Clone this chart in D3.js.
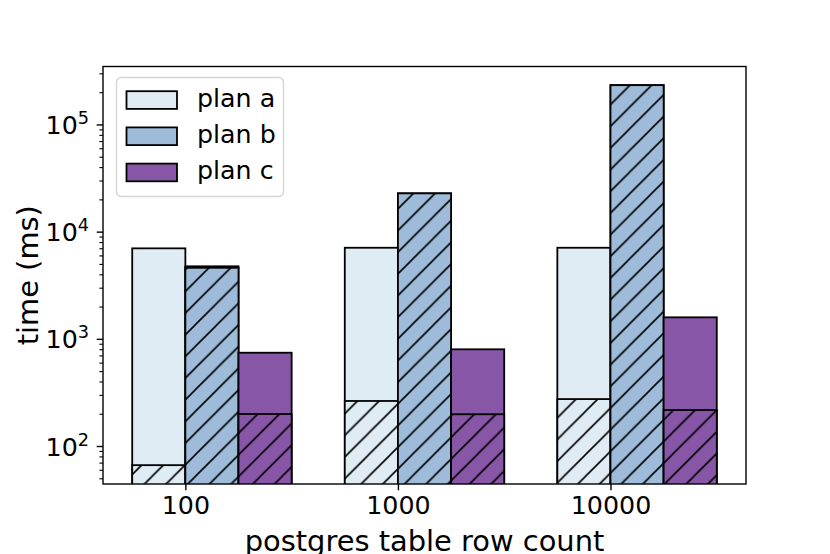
<!DOCTYPE html>
<html>
<head>
<meta charset="utf-8">
<script src="https://cdn.jsdelivr.net/npm/d3@7"></script>
<style>
  html, body { margin: 0; padding: 0; background: #fff; }
  svg { display: block; font-family: "DejaVu Sans", sans-serif; }
</style>
</head>
<body>
<svg id="chart" width="830" height="554"></svg>
<script>
// ---- data ----
const categories = ["100", "1000", "10000"];
const plans = ["plan a", "plan b", "plan c"];
const planColors = ["#e0ecf4", "#9ebcda", "#8856a7"];
const planATotal = [7060, 7150, 7150];
const planAHatched = [67, 266, 277];
const planBTotal = [4800, 23000, 235000];
const planBHatched = [4650, 23000, 235000];
const planCTotal = [750, 807, 1604];
const planCHatched = [201, 200, 219];
const yMajorTicks = [100, 1000, 10000, 100000];
const yTickExponents = ["2", "3", "4", "5"];
const xLabel = "postgres table row count";
const yLabel = "time (ms)";

const totals = [planATotal, planBTotal, planCTotal];
const hatched = [planAHatched, planBHatched, planCHatched];

// ---- layout ----
const svg = d3.select("#chart");
const L = 103, R = 746, T = 66.5, B = 484;
const barW = 0.25;

const x = d3.scaleLinear().domain([-0.3875, 2.6375]).range([L, R]);
const y = d3.scaleLog().domain([44.7, 351000]).range([B, T]);

// hatch pattern
const defs = svg.append("defs");
const hs = 21.67;
planColors.forEach((c, i) => {
  const p = defs.append("pattern")
    .attr("id", "hatch" + i)
    .attr("patternUnits", "userSpaceOnUse")
    .attr("width", hs).attr("height", hs);
  p.append("rect").attr("width", hs).attr("height", hs).attr("fill", c);
  p.append("path")
    .attr("d", `M0,${hs} L${hs},0 M${-hs/2},${hs/2} L${hs/2},${-hs/2} M${hs/2},${hs*1.5} L${hs*1.5},${hs/2}`)
    .attr("stroke", "#000").attr("stroke-width", 1.6);
});
defs.append("clipPath").attr("id", "plotclip")
  .append("rect").attr("x", L).attr("y", T).attr("width", R - L).attr("height", B - T);

const plot = svg.append("g").attr("clip-path", "url(#plotclip)");

plans.forEach((pl, pi) => {
  const g = plot.append("g");
  categories.forEach((c, ci) => {
    const x0 = x(ci + (pi - 1) * barW);
    const w = x(ci + pi * barW) - x0;
    // total (plain)
    g.append("rect")
      .attr("x", x0).attr("width", w)
      .attr("y", y(totals[pi][ci]))
      .attr("height", B + 20 - y(totals[pi][ci]))
      .attr("fill", planColors[pi])
      .attr("stroke", "#000").attr("stroke-width", 1.8);
    // hatched part
    g.append("rect")
      .attr("x", x0).attr("width", w)
      .attr("y", y(hatched[pi][ci]))
      .attr("height", B + 20 - y(hatched[pi][ci]))
      .attr("fill", `url(#hatch${pi})`)
      .attr("stroke", "#000").attr("stroke-width", 1.8);
  });
});

// frame
svg.append("rect").attr("x", L).attr("y", T).attr("width", R - L).attr("height", B - T)
  .attr("fill", "none").attr("stroke", "#000").attr("stroke-width", 1.4);

// x axis
const xAxis = d3.axisBottom(x).tickValues(categories.map((d, i) => i))
  .tickFormat((d, i) => categories[i]).tickSize(6.3).tickPadding(6);
const gx = svg.append("g").attr("transform", `translate(0,${B})`).call(xAxis);
gx.select(".domain").remove();
gx.selectAll(".tick line").attr("stroke-width", 1.4);
gx.selectAll(".tick text").attr("font-size", 25.3).attr("font-family", "DejaVu Sans").attr("fill", "#000");

// y axis minor ticks
const minor = [];
for (let e = 1; e <= 5; e++) for (let m = 2; m <= 9; m++) {
  const v = m * Math.pow(10, e);
  if (v >= 44.7 && v <= 351000) minor.push(v);
}
const gy = svg.append("g");
gy.selectAll("line.minor").data(minor).join("line")
  .attr("x1", L - 3.6).attr("x2", L).attr("y1", d => y(d)).attr("y2", d => y(d))
  .attr("stroke", "#000").attr("stroke-width", 1.1);
gy.selectAll("line.major").data(yMajorTicks).join("line")
  .attr("x1", L - 6.3).attr("x2", L).attr("y1", d => y(d)).attr("y2", d => y(d))
  .attr("stroke", "#000").attr("stroke-width", 1.4);
const yt = gy.selectAll("text").data(yMajorTicks).join("text")
  .attr("x", L - 14).attr("y", d => y(d) + 9)
  .attr("text-anchor", "end").attr("font-size", 25.3).attr("fill", "#000");
yt.append("tspan").text("10");
yt.append("tspan").attr("font-size", 17.7).attr("dy", -10).text((d, i) => yTickExponents[i]);

// axis labels
svg.append("text").attr("x", (L + R) / 2).attr("y", 551)
  .attr("text-anchor", "middle").attr("font-size", 28.9).attr("fill", "#000").text(xLabel);
svg.append("text").attr("transform", `translate(38,${(T + B) / 2}) rotate(-90)`)
  .attr("text-anchor", "middle").attr("font-size", 28.9).attr("fill", "#000").text(yLabel);

// legend
const lg = svg.append("g");
lg.append("rect").attr("x", 116.5).attr("y", 77.5).attr("width", 167).attr("height", 119)
  .attr("rx", 5).attr("fill", "#fff").attr("fill-opacity", 0.8)
  .attr("stroke", "#d5d5d5").attr("stroke-width", 1.4);
plans.forEach((pl, i) => {
  const cy = 100 + i * 36.2;
  lg.append("rect").attr("x", 126.5).attr("y", cy - 8.8).attr("width", 50.5).attr("height", 17.7)
    .attr("fill", planColors[i]).attr("stroke", "#000").attr("stroke-width", 1.8);
  lg.append("text").attr("x", 197).attr("y", cy + 7).attr("font-size", 25.3).attr("fill", "#000").text(pl);
});
</script>
</body>
</html>
